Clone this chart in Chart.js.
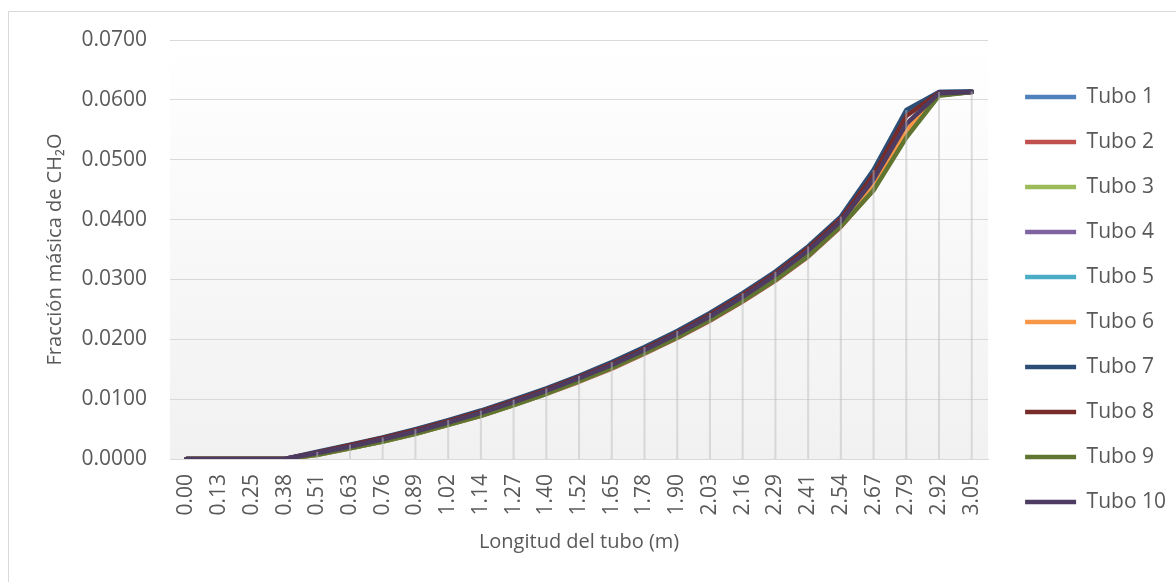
<!DOCTYPE html>
<html>
<head>
<meta charset="utf-8">
<script src="https://cdn.jsdelivr.net/npm/chart.js@4/dist/chart.umd.min.js"></script>
<style>
  html, body { margin: 0; padding: 0; background: #ffffff; }
  #wrap { width: 1176px; height: 582px; position: relative; }
</style>
</head>
<body>
<div id="wrap"><canvas id="c"></canvas></div>
<script>
const categories = ['0.00','0.13','0.25','0.38','0.51','0.63','0.76','0.89','1.02','1.14','1.27','1.40','1.52','1.65','1.78','1.90','2.03','2.16','2.29','2.41','2.54','2.67','2.79','2.92','3.05'];

const seriesNames = ['Tubo 1','Tubo 2','Tubo 3','Tubo 4','Tubo 5','Tubo 6','Tubo 7','Tubo 8','Tubo 9','Tubo 10'];
const seriesColors = ['#4F81BD','#C0504D','#9BBB59','#8064A2','#4BACC6','#F79646','#2C4D75','#772C2A','#5F7530','#4D3B62'];

const tubo1  = [0,0,0,0,0.0011,0.0023,0.0035,0.0049,0.0064,0.0080,0.0098,0.0117,0.0138,0.0161,0.0186,0.0213,0.0243,0.0276,0.0312,0.0354,0.0403,0.0480,0.0580,0.0613,0.0614];
const tubo2  = [0,0,0,0,0.0007,0.0018,0.0029,0.0042,0.0057,0.0072,0.0090,0.0109,0.0129,0.0151,0.0176,0.0202,0.0231,0.0263,0.0298,0.0338,0.0388,0.0450,0.0540,0.0608,0.0613];
const tubo3  = [0,0,0,0,0.0007,0.0018,0.0029,0.0042,0.0057,0.0073,0.0090,0.0109,0.0130,0.0152,0.0177,0.0204,0.0233,0.0265,0.0300,0.0340,0.0390,0.0451,0.0541,0.0608,0.0613];
const tubo4  = [0,0,0,0,0.0010,0.0021,0.0033,0.0046,0.0061,0.0077,0.0095,0.0114,0.0135,0.0157,0.0182,0.0209,0.0238,0.0271,0.0307,0.0348,0.0397,0.0466,0.0558,0.0611,0.0613];
const tubo5  = [0,0,0,0,0.0009,0.0020,0.0032,0.0045,0.0060,0.0076,0.0094,0.0113,0.0134,0.0156,0.0181,0.0208,0.0237,0.0270,0.0306,0.0347,0.0396,0.0462,0.0556,0.0610,0.0613];
const tubo6  = [0,0,0,0,0.0008,0.0019,0.0031,0.0044,0.0059,0.0075,0.0092,0.0111,0.0132,0.0154,0.0179,0.0206,0.0235,0.0267,0.0303,0.0343,0.0393,0.0456,0.0549,0.0609,0.0613];
const tubo7  = [0,0,0,0,0.0012,0.0024,0.0036,0.0050,0.0065,0.0081,0.0099,0.0118,0.0139,0.0162,0.0187,0.0214,0.0244,0.0277,0.0313,0.0355,0.0405,0.0483,0.0583,0.0613,0.0614];
const tubo8  = [0,0,0,0,0.0011,0.0023,0.0035,0.0048,0.0063,0.0079,0.0097,0.0116,0.0137,0.0159,0.0184,0.0211,0.0241,0.0274,0.0310,0.0352,0.0401,0.0475,0.0573,0.0612,0.0613];
const tubo9  = [0,0,0,0,0.0007,0.0018,0.0029,0.0042,0.0057,0.0072,0.0090,0.0109,0.0130,0.0152,0.0177,0.0203,0.0232,0.0264,0.0299,0.0339,0.0389,0.0449,0.0537,0.0607,0.0613];
const tubo10 = [0,0,0,0,0.0010,0.0021,0.0033,0.0046,0.0061,0.0077,0.0095,0.0114,0.0135,0.0157,0.0182,0.0209,0.0238,0.0271,0.0307,0.0348,0.0397,0.0467,0.0560,0.0611,0.0613];

const seriesValues = [tubo1, tubo2, tubo3, tubo4, tubo5, tubo6, tubo7, tubo8, tubo9, tubo10];

const yTitle = 'Fracción másica de CH\u2082O';
const xTitle = 'Longitud del tubo (m)';

const textColor = '#595959';
const gridColor = '#d9d9d9';
const fontFamily = '"Open Sans", "Liberation Sans", sans-serif';

const datasets = seriesNames.map((name, i) => ({
  label: name,
  data: seriesValues[i],
  borderColor: seriesColors[i],
  backgroundColor: seriesColors[i],
  borderWidth: 4.5,
  borderCapStyle: 'round',
  borderJoinStyle: 'round',
  pointRadius: 0,
  pointHoverRadius: 0,
  tension: 0,
  fill: false,
  order: seriesNames.length - 1 - i
}));

const backgroundPlugin = {
  id: 'bgPlugin',
  beforeDraw(chart) {
    const ctx = chart.ctx;
    const a = chart.chartArea;
    ctx.save();
    ctx.fillStyle = '#ffffff';
    ctx.fillRect(0, 0, chart.width, chart.height);
    const g = ctx.createLinearGradient(0, a.top, 0, a.bottom);
    g.addColorStop(0, '#ffffff');
    g.addColorStop(0.15, '#fdfdfd');
    g.addColorStop(1, '#f1f1f1');
    ctx.fillStyle = g;
    ctx.fillRect(a.left, a.top, a.right - a.left, a.bottom - a.top);
    ctx.strokeStyle = '#d9d9d9';
    ctx.lineWidth = 1;
    ctx.beginPath();
    ctx.moveTo(8.5, chart.height + 2);
    ctx.lineTo(8.5, 11.5);
    ctx.lineTo(chart.width + 2, 11.5);
    ctx.stroke();
    ctx.restore();
  }
};

const dropLinePlugin = {
  id: 'dropLines',
  afterDatasetsDraw(chart) {
    const ctx = chart.ctx;
    const xs = chart.scales.x;
    const ys = chart.scales.y;
    ctx.save();
    ctx.strokeStyle = 'rgba(190,190,190,0.5)';
    ctx.lineWidth = 2;
    categories.forEach((c, i) => {
      let maxV = -Infinity;
      seriesValues.forEach(s => { if (s[i] > maxV) maxV = s[i]; });
      const x = xs.getPixelForValue(i);
      const yTop = ys.getPixelForValue(maxV);
      const yBot = ys.bottom;
      if (yBot - yTop > 0.5) {
        ctx.beginPath();
        ctx.moveTo(x, yTop);
        ctx.lineTo(x, yBot);
        ctx.stroke();
      }
    });
    ctx.restore();
  }
};

new Chart(document.getElementById('c'), {
  type: 'line',
  data: { labels: categories, datasets },
  plugins: [backgroundPlugin, dropLinePlugin],
  options: {
    responsive: true,
    maintainAspectRatio: false,
    animation: false,
    events: [],
    layout: { padding: { left: 0, right: 0, top: 40, bottom: 0 } },
    plugins: {
      tooltip: { enabled: false },
      legend: {
        position: 'right',
        align: 'start',
        title: { display: true, text: '', font: { size: 12 }, padding: { top: 8, bottom: 0 } },
        labels: {
          usePointStyle: true,
          pointStyle: 'line',
          pointStyleWidth: 51,
          boxHeight: 4,
          padding: 24,
          color: textColor,
          font: { family: fontFamily, size: 21 },
          sort: (a, b) => a.datasetIndex - b.datasetIndex
        }
      }
    },
    scales: {
      x: {
        type: 'category',
        offset: true,
        grid: { display: false, drawTicks: false },
        border: { display: true, color: gridColor, width: 1 },
        ticks: {
          color: textColor,
          font: { family: fontFamily, size: 21 },
          minRotation: 90,
          maxRotation: 90,
          padding: 15,
          autoSkip: false
        },
        title: {
          display: true,
          text: xTitle,
          color: textColor,
          font: { family: fontFamily, size: 20 },
          padding: { top: 0, bottom: 28 }
        },
        afterFit(scale) { scale.height = 123; }
      },
      y: {
        min: 0,
        max: 0.07,
        grid: { color: gridColor, lineWidth: 1, drawTicks: false },
        border: { display: false },
        ticks: {
          stepSize: 0.01,
          color: textColor,
          font: { family: fontFamily, size: 21 },
          padding: 23,
          callback: (v) => Number(v).toFixed(4)
        },
        title: {
          display: true,
          text: yTitle,
          color: textColor,
          font: { family: fontFamily, size: 20 },
          padding: { top: 43, bottom: 0 }
        },
        afterFit(scale) { scale.width = 170; }
      },
      yRight: {
        position: 'right',
        display: true,
        grid: { display: false, drawTicks: false },
        border: { display: false },
        ticks: { display: false },
        afterFit(scale) { scale.width = 13; }
      }
    }
  }
});
</script>
</body>
</html>
